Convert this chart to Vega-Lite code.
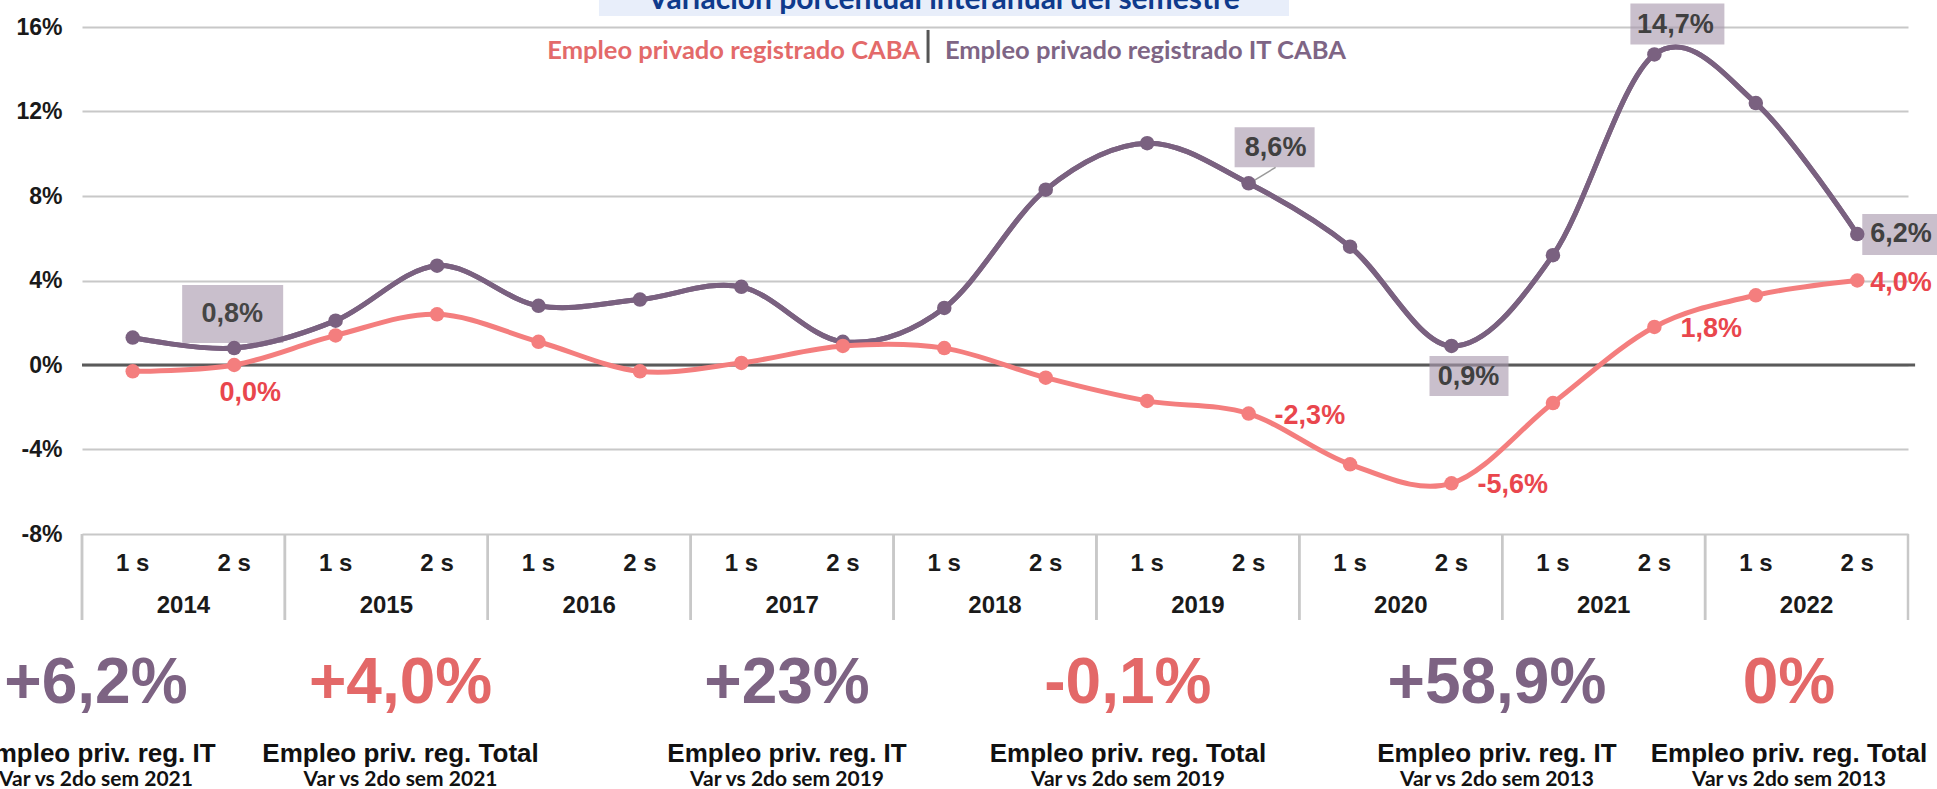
{
  "$schema": "https://vega.github.io/schema/vega-lite/v6.json",
  "width": 1826,
  "height": 507,
  "autosize": {"type": "none"},
  "padding": {"left": 82, "top": 27, "right": 29, "bottom": 255},
  "background": "white",
  "config": {
    "view": {"stroke": null},
    "locale": {"number": {"decimal": ",", "thousands": ".", "grouping": [3], "currency": ["$", ""], "minus": "-"}},
    "axisX": {"disable": true},
    "text": {"font": "Liberation Sans"}
  },
  "datasets": {
    "serie": [
      {"t": 2014.25, "anio": 2014, "sem": "1 s", "caba": -0.003, "it": 0.013},
      {"t": 2014.75, "anio": 2014, "sem": "2 s", "caba": 0.000, "it": 0.008},
      {"t": 2015.25, "anio": 2015, "sem": "1 s", "caba": 0.014, "it": 0.021},
      {"t": 2015.75, "anio": 2015, "sem": "2 s", "caba": 0.024, "it": 0.047},
      {"t": 2016.25, "anio": 2016, "sem": "1 s", "caba": 0.011, "it": 0.028},
      {"t": 2016.75, "anio": 2016, "sem": "2 s", "caba": -0.003, "it": 0.031},
      {"t": 2017.25, "anio": 2017, "sem": "1 s", "caba": 0.001, "it": 0.037},
      {"t": 2017.75, "anio": 2017, "sem": "2 s", "caba": 0.009, "it": 0.011},
      {"t": 2018.25, "anio": 2018, "sem": "1 s", "caba": 0.008, "it": 0.027},
      {"t": 2018.75, "anio": 2018, "sem": "2 s", "caba": -0.006, "it": 0.083},
      {"t": 2019.25, "anio": 2019, "sem": "1 s", "caba": -0.017, "it": 0.105},
      {"t": 2019.75, "anio": 2019, "sem": "2 s", "caba": -0.023, "it": 0.086},
      {"t": 2020.25, "anio": 2020, "sem": "1 s", "caba": -0.047, "it": 0.056},
      {"t": 2020.75, "anio": 2020, "sem": "2 s", "caba": -0.056, "it": 0.009},
      {"t": 2021.25, "anio": 2021, "sem": "1 s", "caba": -0.018, "it": 0.052},
      {"t": 2021.75, "anio": 2021, "sem": "2 s", "caba": 0.018, "it": 0.147},
      {"t": 2022.25, "anio": 2022, "sem": "1 s", "caba": 0.033, "it": 0.124},
      {"t": 2022.75, "anio": 2022, "sem": "2 s", "caba": 0.040, "it": 0.062}
    ],
    "textos": [
      {"titulo": "Variación porcentual interanual del semestre", "serie_caba": "Empleo privado registrado CABA", "serie_it": "Empleo privado registrado IT CABA"}
    ],
    "resumen": [
      {"id": 1, "cifra": "+6,2%", "indicador": "Empleo priv. reg. IT", "base": "Var vs 2do sem 2021"},
      {"id": 2, "cifra": "+4,0%", "indicador": "Empleo priv. reg. Total", "base": "Var vs 2do sem 2021"},
      {"id": 3, "cifra": "+23%", "indicador": "Empleo priv. reg. IT", "base": "Var vs 2do sem 2019"},
      {"id": 4, "cifra": "-0,1%", "indicador": "Empleo priv. reg. Total", "base": "Var vs 2do sem 2019"},
      {"id": 5, "cifra": "+58,9%", "indicador": "Empleo priv. reg. IT", "base": "Var vs 2do sem 2013"},
      {"id": 6, "cifra": "0%", "indicador": "Empleo priv. reg. Total", "base": "Var vs 2do sem 2013"}
    ]
  },
  "layer": [
    {
      "data": {"name": "serie"},
      "mark": {"type": "line", "color": "#7a6180", "strokeWidth": 5, "interpolate": "cardinal"},
      "encoding": {
        "x": {"field": "t", "type": "quantitative", "scale": {"domain": [2014, 2023], "nice": false, "zero": false}, "axis": null},
        "y": {"field": "it", "type": "quantitative", "scale": {"domain": [-0.08, 0.16], "nice": false, "zero": false},
          "axis": {"values": [-0.08, -0.04, 0, 0.04, 0.08, 0.12, 0.16], "format": ".0%", "title": null, "grid": true, "gridColor": "#c8c8c8", "gridWidth": 2, "domain": false, "ticks": false, "labelFont": "Liberation Sans", "labelFontSize": 23, "labelFontWeight": "bold", "labelColor": "#1a1a1a", "labelPadding": 20}}
      }
    },
    {
      "data": {"name": "textos"},
      "mark": {"type": "rect", "color": "#e8eefa"},
      "encoding": {
        "x": {"datum": 2016.548, "type": "quantitative"},
        "x2": {"datum": 2019.949},
        "y": {"datum": 0.18, "type": "quantitative"},
        "y2": {"datum": 0.1652}
      }
    },
    {
      "data": {"name": "textos"},
      "mark": {"type": "text", "font": "Lato", "fontSize": 30, "fontWeight": "bold", "color": "#0f3a8c", "align": "center", "baseline": "alphabetic"},
      "encoding": {
        "x": {"datum": 2018.248, "type": "quantitative"},
        "y": {"datum": 0.1685, "type": "quantitative"},
        "text": {"field": "titulo"}
      }
    },
    {
      "data": {"name": "serie"},
      "mark": {"type": "rule", "color": "#c8c8c8", "strokeWidth": 2.5},
      "encoding": {
        "x": {"field": "anio", "type": "quantitative", "axis": null},
        "y": {"datum": -0.08, "type": "quantitative"},
        "y2": {"datum": -0.1207}
      }
    },
    {
      "data": {"name": "textos"},
      "mark": {"type": "rule", "color": "#c8c8c8", "strokeWidth": 2.5},
      "encoding": {
        "x": {"datum": 2023, "type": "quantitative"},
        "y": {"datum": -0.08, "type": "quantitative"},
        "y2": {"datum": -0.1207}
      }
    },
    {
      "data": {"name": "textos"},
      "mark": {"type": "rule", "color": "#5a5a5a", "strokeWidth": 3},
      "encoding": {
        "x": {"datum": 2014, "type": "quantitative"},
        "x2": {"datum": 2023.035},
        "y": {"datum": 0, "type": "quantitative"}
      }
    },
    {
      "data": {"name": "serie"},
      "mark": {"type": "text", "font": "Liberation Sans", "fontSize": 24, "fontWeight": "bold", "color": "#1a1a1a", "align": "center", "baseline": "alphabetic"},
      "encoding": {
        "x": {"field": "t", "type": "quantitative", "axis": null},
        "y": {"datum": -0.0975, "type": "quantitative"},
        "text": {"field": "sem", "type": "nominal"}
      }
    },
    {
      "data": {"name": "serie"},
      "transform": [{"aggregate": [{"op": "mean", "field": "t", "as": "centro"}], "groupby": ["anio"]}],
      "mark": {"type": "text", "font": "Liberation Sans", "fontSize": 24, "fontWeight": "bold", "color": "#1a1a1a", "align": "center", "baseline": "alphabetic"},
      "encoding": {
        "x": {"field": "centro", "type": "quantitative", "axis": null},
        "y": {"datum": -0.1174, "type": "quantitative"},
        "text": {"field": "anio", "type": "nominal"}
      }
    },
    {
      "data": {"name": "serie"},
      "transform": [{"filter": "datum.t == 2014.75"}],
      "mark": {"type": "rect", "color": "#a898ad", "opacity": 0.62, "xOffset": -52, "x2Offset": 49, "yOffset": -63, "y2Offset": -5},
      "encoding": {"x": {"field": "t", "type": "quantitative"}, "x2": {"field": "t"}, "y": {"field": "it", "type": "quantitative"}, "y2": {"field": "it"}}
    },
    {
      "data": {"name": "serie"},
      "transform": [{"filter": "datum.t == 2019.75"}],
      "mark": {"type": "rect", "color": "#a898ad", "opacity": 0.62, "xOffset": -14, "x2Offset": 66, "yOffset": -56, "y2Offset": -16},
      "encoding": {"x": {"field": "t", "type": "quantitative"}, "x2": {"field": "t"}, "y": {"field": "it", "type": "quantitative"}, "y2": {"field": "it"}}
    },
    {
      "data": {"name": "serie"},
      "transform": [{"filter": "datum.t == 2020.75"}],
      "mark": {"type": "rect", "color": "#a898ad", "opacity": 0.62, "xOffset": -22, "x2Offset": 57, "yOffset": 10, "y2Offset": 50},
      "encoding": {"x": {"field": "t", "type": "quantitative"}, "x2": {"field": "t"}, "y": {"field": "it", "type": "quantitative"}, "y2": {"field": "it"}}
    },
    {
      "data": {"name": "serie"},
      "transform": [{"filter": "datum.t == 2021.75"}],
      "mark": {"type": "rect", "color": "#a898ad", "opacity": 0.62, "xOffset": -24, "x2Offset": 70, "yOffset": -51, "y2Offset": -10},
      "encoding": {"x": {"field": "t", "type": "quantitative"}, "x2": {"field": "t"}, "y": {"field": "it", "type": "quantitative"}, "y2": {"field": "it"}}
    },
    {
      "data": {"name": "serie"},
      "transform": [{"filter": "datum.t == 2022.75"}],
      "mark": {"type": "rect", "color": "#a898ad", "opacity": 0.62, "xOffset": 5, "x2Offset": 85, "yOffset": -20, "y2Offset": 21},
      "encoding": {"x": {"field": "t", "type": "quantitative"}, "x2": {"field": "t"}, "y": {"field": "it", "type": "quantitative"}, "y2": {"field": "it"}}
    },
    {
      "data": {"name": "serie"},
      "transform": [{"filter": "datum.t == 2019.75"}],
      "mark": {"type": "rule", "color": "#9a9a9a", "strokeWidth": 1.5, "xOffset": 4, "x2Offset": 27, "yOffset": -2, "y2Offset": -16},
      "encoding": {"x": {"field": "t", "type": "quantitative"}, "x2": {"field": "t"}, "y": {"field": "it", "type": "quantitative"}, "y2": {"field": "it"}}
    },
    {
      "data": {"name": "serie"},
      "mark": {"type": "line", "color": "#7a6180", "strokeWidth": 5, "interpolate": "cardinal"},
      "encoding": {"x": {"field": "t", "type": "quantitative"}, "y": {"field": "it", "type": "quantitative"}}
    },
    {
      "data": {"name": "serie"},
      "mark": {"type": "circle", "color": "#7a6180", "size": 210, "opacity": 1},
      "encoding": {"x": {"field": "t", "type": "quantitative"}, "y": {"field": "it", "type": "quantitative"}}
    },
    {
      "data": {"name": "serie"},
      "mark": {"type": "line", "color": "#f47e7e", "strokeWidth": 5, "interpolate": "cardinal"},
      "encoding": {"x": {"field": "t", "type": "quantitative"}, "y": {"field": "caba", "type": "quantitative"}}
    },
    {
      "data": {"name": "serie"},
      "mark": {"type": "circle", "color": "#f47e7e", "size": 210, "opacity": 1},
      "encoding": {"x": {"field": "t", "type": "quantitative"}, "y": {"field": "caba", "type": "quantitative"}}
    },
    {
      "data": {"name": "serie"},
      "transform": [{"filter": "datum.t == 2014.75"}],
      "mark": {"type": "text", "fontSize": 27, "fontWeight": "bold", "color": "#454545", "align": "center", "baseline": "middle", "dx": -2, "dy": -34},
      "encoding": {"x": {"field": "t", "type": "quantitative"}, "y": {"field": "it", "type": "quantitative"}, "text": {"field": "it", "type": "quantitative", "format": ".1%"}}
    },
    {
      "data": {"name": "serie"},
      "transform": [{"filter": "datum.t == 2019.75"}],
      "mark": {"type": "text", "fontSize": 27, "fontWeight": "bold", "color": "#404040", "align": "center", "baseline": "middle", "dx": 27, "dy": -35},
      "encoding": {"x": {"field": "t", "type": "quantitative"}, "y": {"field": "it", "type": "quantitative"}, "text": {"field": "it", "type": "quantitative", "format": ".1%"}}
    },
    {
      "data": {"name": "serie"},
      "transform": [{"filter": "datum.t == 2020.75"}],
      "mark": {"type": "text", "fontSize": 27, "fontWeight": "bold", "color": "#404040", "align": "center", "baseline": "middle", "dx": 17, "dy": 31},
      "encoding": {"x": {"field": "t", "type": "quantitative"}, "y": {"field": "it", "type": "quantitative"}, "text": {"field": "it", "type": "quantitative", "format": ".1%"}}
    },
    {
      "data": {"name": "serie"},
      "transform": [{"filter": "datum.t == 2021.75"}],
      "mark": {"type": "text", "fontSize": 27, "fontWeight": "bold", "color": "#404040", "align": "center", "baseline": "middle", "dx": 21, "dy": -29},
      "encoding": {"x": {"field": "t", "type": "quantitative"}, "y": {"field": "it", "type": "quantitative"}, "text": {"field": "it", "type": "quantitative", "format": ".1%"}}
    },
    {
      "data": {"name": "serie"},
      "transform": [{"filter": "datum.t == 2022.75"}],
      "mark": {"type": "text", "fontSize": 27, "fontWeight": "bold", "color": "#404040", "align": "left", "baseline": "middle", "dx": 13, "dy": 0},
      "encoding": {"x": {"field": "t", "type": "quantitative"}, "y": {"field": "it", "type": "quantitative"}, "text": {"field": "it", "type": "quantitative", "format": ".1%"}}
    },
    {
      "data": {"name": "serie"},
      "transform": [{"filter": "datum.t == 2014.75"}],
      "mark": {"type": "text", "fontSize": 27, "fontWeight": "bold", "color": "#e9464d", "align": "center", "baseline": "middle", "dx": 16, "dy": 28},
      "encoding": {"x": {"field": "t", "type": "quantitative"}, "y": {"field": "caba", "type": "quantitative"}, "text": {"field": "caba", "type": "quantitative", "format": ".1%"}}
    },
    {
      "data": {"name": "serie"},
      "transform": [{"filter": "datum.t == 2019.75 || datum.t == 2020.75 || datum.t == 2021.75"}],
      "mark": {"type": "text", "fontSize": 27, "fontWeight": "bold", "color": "#e9464d", "align": "left", "baseline": "middle", "dx": 26, "dy": 2},
      "encoding": {"x": {"field": "t", "type": "quantitative"}, "y": {"field": "caba", "type": "quantitative"}, "text": {"field": "caba", "type": "quantitative", "format": ".1%"}}
    },
    {
      "data": {"name": "serie"},
      "transform": [{"filter": "datum.t == 2022.75"}],
      "mark": {"type": "text", "fontSize": 27, "fontWeight": "bold", "color": "#e9464d", "align": "left", "baseline": "middle", "dx": 13, "dy": 2},
      "encoding": {"x": {"field": "t", "type": "quantitative"}, "y": {"field": "caba", "type": "quantitative"}, "text": {"field": "caba", "type": "quantitative", "format": ".1%"}}
    },
    {
      "data": {"name": "textos"},
      "mark": {"type": "text", "font": "Lato", "fontSize": 25.5, "fontWeight": "bold", "color": "#e36a6a", "align": "right", "baseline": "alphabetic"},
      "encoding": {"x": {"datum": 2018.130, "type": "quantitative"}, "y": {"datum": 0.1449, "type": "quantitative"}, "text": {"field": "serie_caba"}}
    },
    {
      "data": {"name": "textos"},
      "mark": {"type": "rule", "color": "#555555", "strokeWidth": 3},
      "encoding": {"x": {"datum": 2018.170, "type": "quantitative"}, "y": {"datum": 0.1586, "type": "quantitative"}, "y2": {"datum": 0.143}}
    },
    {
      "data": {"name": "textos"},
      "mark": {"type": "text", "font": "Lato", "fontSize": 25.5, "fontWeight": "bold", "color": "#7e6585", "align": "left", "baseline": "alphabetic"},
      "encoding": {"x": {"datum": 2018.253, "type": "quantitative"}, "y": {"datum": 0.1449, "type": "quantitative"}, "text": {"field": "serie_it"}}
    },
    {
      "data": {"name": "resumen"},
      "transform": [{"filter": "datum.id == 1"}],
      "encoding": {"x": {"datum": 2014.069, "type": "quantitative"}},
      "layer": [
        {"mark": {"type": "text", "fontSize": 64, "fontWeight": "bold", "color": "#7d6383", "align": "center", "baseline": "alphabetic"}, "encoding": {"y": {"datum": -0.16, "type": "quantitative"}, "text": {"field": "cifra"}}},
        {"mark": {"type": "text", "fontSize": 26, "fontWeight": "bold", "color": "#111111", "align": "center", "baseline": "alphabetic"}, "encoding": {"y": {"datum": -0.1879, "type": "quantitative"}, "text": {"field": "indicador"}}},
        {"mark": {"type": "text", "font": "Lato", "fontSize": 21, "fontWeight": "bold", "color": "#111111", "align": "center", "baseline": "alphabetic"}, "encoding": {"y": {"datum": -0.1993, "type": "quantitative"}, "text": {"field": "base"}}}
      ]
    },
    {
      "data": {"name": "resumen"},
      "transform": [{"filter": "datum.id == 2"}],
      "encoding": {"x": {"datum": 2015.570, "type": "quantitative"}},
      "layer": [
        {"mark": {"type": "text", "fontSize": 64, "fontWeight": "bold", "color": "#e36868", "align": "center", "baseline": "alphabetic"}, "encoding": {"y": {"datum": -0.16, "type": "quantitative"}, "text": {"field": "cifra"}}},
        {"mark": {"type": "text", "fontSize": 26, "fontWeight": "bold", "color": "#111111", "align": "center", "baseline": "alphabetic"}, "encoding": {"y": {"datum": -0.1879, "type": "quantitative"}, "text": {"field": "indicador"}}},
        {"mark": {"type": "text", "font": "Lato", "fontSize": 21, "fontWeight": "bold", "color": "#111111", "align": "center", "baseline": "alphabetic"}, "encoding": {"y": {"datum": -0.1993, "type": "quantitative"}, "text": {"field": "base"}}}
      ]
    },
    {
      "data": {"name": "resumen"},
      "transform": [{"filter": "datum.id == 3"}],
      "encoding": {"x": {"datum": 2017.475, "type": "quantitative"}},
      "layer": [
        {"mark": {"type": "text", "fontSize": 64, "fontWeight": "bold", "color": "#7d6383", "align": "center", "baseline": "alphabetic"}, "encoding": {"y": {"datum": -0.16, "type": "quantitative"}, "text": {"field": "cifra"}}},
        {"mark": {"type": "text", "fontSize": 26, "fontWeight": "bold", "color": "#111111", "align": "center", "baseline": "alphabetic"}, "encoding": {"y": {"datum": -0.1879, "type": "quantitative"}, "text": {"field": "indicador"}}},
        {"mark": {"type": "text", "font": "Lato", "fontSize": 21, "fontWeight": "bold", "color": "#111111", "align": "center", "baseline": "alphabetic"}, "encoding": {"y": {"datum": -0.1993, "type": "quantitative"}, "text": {"field": "base"}}}
      ]
    },
    {
      "data": {"name": "resumen"},
      "transform": [{"filter": "datum.id == 4"}],
      "encoding": {"x": {"datum": 2019.155, "type": "quantitative"}},
      "layer": [
        {"mark": {"type": "text", "fontSize": 64, "fontWeight": "bold", "color": "#e36868", "align": "center", "baseline": "alphabetic"}, "encoding": {"y": {"datum": -0.16, "type": "quantitative"}, "text": {"field": "cifra"}}},
        {"mark": {"type": "text", "fontSize": 26, "fontWeight": "bold", "color": "#111111", "align": "center", "baseline": "alphabetic"}, "encoding": {"y": {"datum": -0.1879, "type": "quantitative"}, "text": {"field": "indicador"}}},
        {"mark": {"type": "text", "font": "Lato", "fontSize": 21, "fontWeight": "bold", "color": "#111111", "align": "center", "baseline": "alphabetic"}, "encoding": {"y": {"datum": -0.1993, "type": "quantitative"}, "text": {"field": "base"}}}
      ]
    },
    {
      "data": {"name": "resumen"},
      "transform": [{"filter": "datum.id == 5"}],
      "encoding": {"x": {"datum": 2020.974, "type": "quantitative"}},
      "layer": [
        {"mark": {"type": "text", "fontSize": 64, "fontWeight": "bold", "color": "#7d6383", "align": "center", "baseline": "alphabetic"}, "encoding": {"y": {"datum": -0.16, "type": "quantitative"}, "text": {"field": "cifra"}}},
        {"mark": {"type": "text", "fontSize": 26, "fontWeight": "bold", "color": "#111111", "align": "center", "baseline": "alphabetic"}, "encoding": {"y": {"datum": -0.1879, "type": "quantitative"}, "text": {"field": "indicador"}}},
        {"mark": {"type": "text", "font": "Lato", "fontSize": 21, "fontWeight": "bold", "color": "#111111", "align": "center", "baseline": "alphabetic"}, "encoding": {"y": {"datum": -0.1993, "type": "quantitative"}, "text": {"field": "base"}}}
      ]
    },
    {
      "data": {"name": "resumen"},
      "transform": [{"filter": "datum.id == 6"}],
      "encoding": {"x": {"datum": 2022.413, "type": "quantitative"}},
      "layer": [
        {"mark": {"type": "text", "fontSize": 64, "fontWeight": "bold", "color": "#e36868", "align": "center", "baseline": "alphabetic"}, "encoding": {"y": {"datum": -0.16, "type": "quantitative"}, "text": {"field": "cifra"}}},
        {"mark": {"type": "text", "fontSize": 26, "fontWeight": "bold", "color": "#111111", "align": "center", "baseline": "alphabetic"}, "encoding": {"y": {"datum": -0.1879, "type": "quantitative"}, "text": {"field": "indicador"}}},
        {"mark": {"type": "text", "font": "Lato", "fontSize": 21, "fontWeight": "bold", "color": "#111111", "align": "center", "baseline": "alphabetic"}, "encoding": {"y": {"datum": -0.1993, "type": "quantitative"}, "text": {"field": "base"}}}
      ]
    }
  ]
}
